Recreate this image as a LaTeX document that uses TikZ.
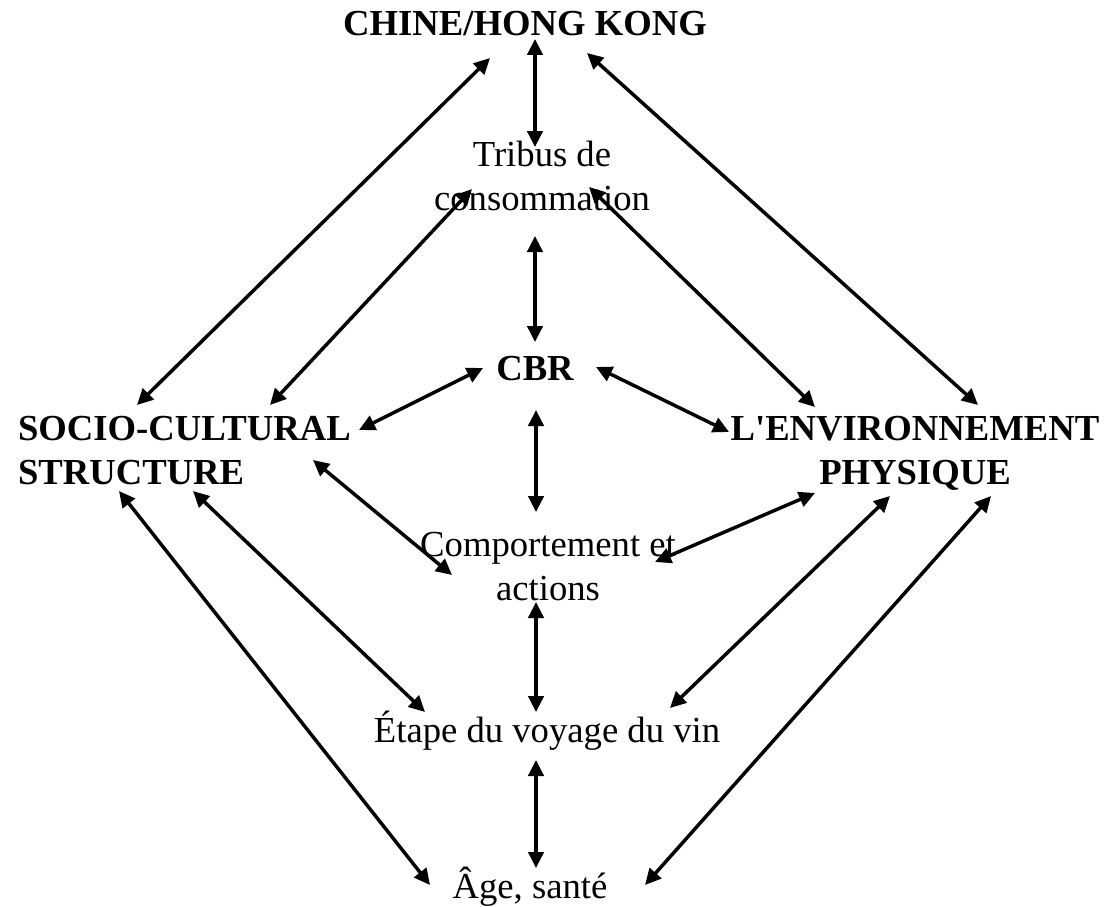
\documentclass[tikz,border=0pt]{standalone}
\usepackage{fontspec}
\setmainfont{Liberation Serif}[Ligatures=TeXOff]
\usetikzlibrary{arrows.meta}
\begin{document}
\begin{tikzpicture}[x=0.75pt,y=-0.75pt,
  lbl/.style={inner sep=0pt,outer sep=0pt,anchor=base,align=center,
    font=\fontsize{27.5}{32.3}\selectfont},
  bold/.style={lbl,font=\fontsize{27.5}{32.3}\selectfont\bfseries},
  link/.style={line width=2.6pt,{Triangle[length=12pt,width=11.5pt]}-{Triangle[length=12pt,width=11.5pt]}}]
\useasboundingbox (0,0) rectangle (1116,906);

% labels (base = baseline of the last line)
\node[bold] (china) at (525,36) {CHINE/HONG KONG};
\node[lbl] (tribus) at (542,210) {Tribus de\\consommation};
\node[bold] (cbr) at (535,380) {CBR};
\node[bold,anchor=base west,align=left] (socio) at (18,484) {SOCIO-CULTURAL\\STRUCTURE};
\node[bold] (env) at (915,484) {L'ENVIRONNEMENT\\PHYSIQUE};
\node[lbl] (comp) at (548,600) {Comportement et\\actions};
\node[lbl] (etape) at (547,742) {Étape du voyage du vin};
\node[lbl] (age) at (530,898) {Âge, santé};

% connector ends
\coordinate (chinaS) at (535,39);
\coordinate (chinaSW) at (490,58);
\coordinate (chinaSE) at (587,53);
\coordinate (tribusN) at (535,147);
\coordinate (tribusSW) at (472,189);
\coordinate (tribusSE) at (589,187);
\coordinate (tribusS) at (535,236);
\coordinate (cbrN) at (535,342);
\coordinate (cbrW) at (483,368);
\coordinate (cbrE) at (596,367);
\coordinate (cbrS) at (536,410);
\coordinate (socioNW) at (137,405);
\coordinate (socioN) at (270,405);
\coordinate (socioE) at (359,430);
\coordinate (socioSE) at (313,460);
\coordinate (socioS1) at (119,491);
\coordinate (socioS2) at (193,491);
\coordinate (envW) at (729,432);
\coordinate (envN) at (815,407);
\coordinate (envNE) at (978,405);
\coordinate (envS1) at (815,493);
\coordinate (envS2) at (890,496);
\coordinate (envS3) at (991,496);
\coordinate (compN) at (536,512);
\coordinate (compW) at (452,575);
\coordinate (compE) at (655,562);
\coordinate (compS) at (536,602);
\coordinate (etapeN) at (536,712);
\coordinate (etapeW) at (425,712);
\coordinate (etapeE) at (670,708);
\coordinate (etapeS) at (536,760);
\coordinate (ageN) at (536,868);
\coordinate (ageW) at (430,885);
\coordinate (ageE) at (645,885);

% two-way links
\draw[link] (chinaS) -- (tribusN);
\draw[link] (chinaSW) -- (socioNW);
\draw[link] (chinaSE) -- (envNE);
\draw[link] (tribusSW) -- (socioN);
\draw[link] (tribusSE) -- (envN);
\draw[link] (tribusS) -- (cbrN);
\draw[link] (cbrW) -- (socioE);
\draw[link] (cbrE) -- (envW);
\draw[link] (cbrS) -- (compN);
\draw[link] (socioSE) -- (compW);
\draw[link] (envS1) -- (compE);
\draw[link] (compS) -- (etapeN);
\draw[link] (socioS2) -- (etapeW);
\draw[link] (envS2) -- (etapeE);
\draw[link] (etapeS) -- (ageN);
\draw[link] (socioS1) -- (ageW);
\draw[link] (envS3) -- (ageE);
\end{tikzpicture}
\end{document}
